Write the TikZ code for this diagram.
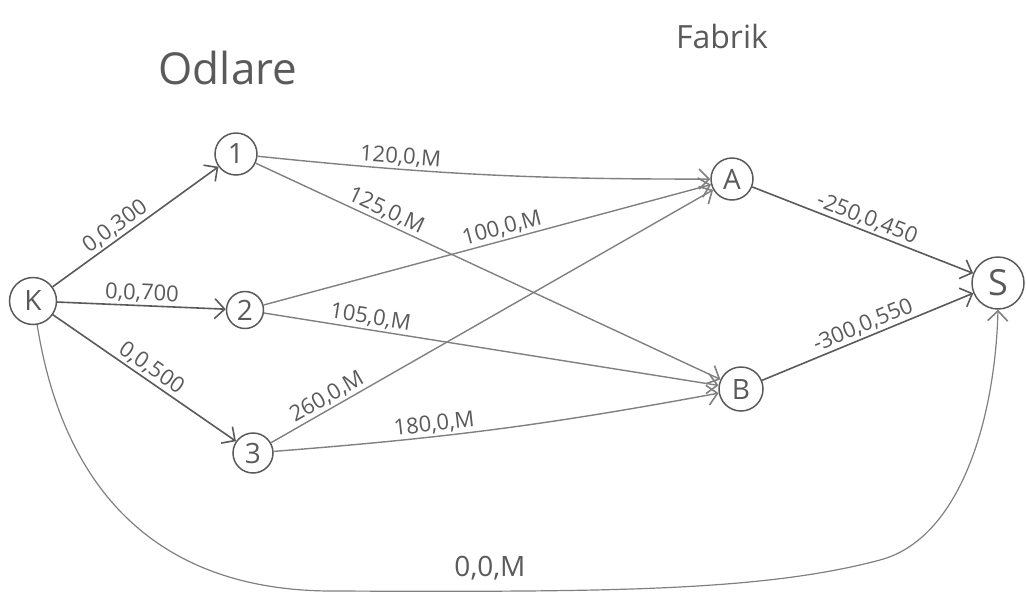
\documentclass[tikz,border=0pt]{standalone}
\usepackage{fontspec}
\setmainfont{Open Sans}
\usetikzlibrary{arrows.meta}
\definecolor{pencil}{HTML}{5A5A5A}
\definecolor{lightpencil}{HTML}{808080}
\tikzset{
  vert/.style={circle, draw=pencil, line width=1.5pt, minimum size=42pt, inner sep=0pt, font=\fontsize{28}{30}\selectfont, text=pencil},
  edge/.style={draw=pencil, line width=1.6pt, -{Straight Barb[length=10pt,width=20pt,line width=1.6pt]}},
  edgel/.style={edge, draw=lightpencil, line width=1.4pt},
  lab/.style={font=\fontsize{22}{24}\selectfont, text=pencil, inner sep=2pt, sloped, above},
  title/.style={text=pencil}
}
\begin{document}
\begin{tikzpicture}[x=1pt,y=-1pt]
\useasboundingbox (0,0) rectangle (1026,595);
\node[vert, minimum size=47pt] (K) at (33,301) {K};
\node[vert] (n1) at (236,154) {1};
\node[vert, minimum size=37pt] (n2) at (245,310) {2};
\node[vert, minimum size=40pt] (n3) at (253,453) {3};
\node[vert] (A) at (732,179) {A};
\node[vert, minimum size=44pt] (B) at (741,389) {B};
\node[vert, minimum size=52pt, font=\fontsize{36}{38}\selectfont] (S) at (998,283) {S};

\node[title, font=\fontsize{44}{48}\selectfont] (odl) at (228,68) {Odlare};
\node[title, font=\fontsize{32}{36}\selectfont] (fab) at (722,36) {Fabrik};

\draw[edge] (K) -- node[lab, pos=0.42] (l1) {0,0,300} (n1);
\draw[edge] (K) -- node[lab, pos=0.5] (l2) {0,0,700} (n2);
\draw[edge] (K) -- node[lab, pos=0.5] (l3) {0,0,500} (n3);
\draw[edgel] (n1) to[bend right=3] node[lab, pos=0.3] (l4) {120,0,M} (A);
\draw[edgel] (n1) -- node[lab, pos=0.27] (l5) {125,0,M} (B);
\draw[edgel] (n2) -- node[lab, pos=0.54] (l6) {100,0,M} (A);
\draw[edgel] (n2) -- node[lab, pos=0.23] (l7) {105,0,M} (B);
\draw[edgel] (n3) -- node[lab, pos=0.14] (l8) {260,0,M} (A);
\draw[edgel] (n3) to[bend right=3] node[lab, pos=0.35] (l9) {180,0,M} (B);
\draw[edge] (A) -- node[lab, pos=0.5] (l10) {-250,0,450} (S);
\draw[edge] (B) -- node[lab, pos=0.5] (l11) {-300,0,550} (S);
\draw[edgel, line width=1.2pt] (K.-80) .. controls (60,470) and (140,590) .. (330,591)
  .. controls (600,592) and (760,592) .. (880,560)
  .. controls (960,538.7) and (995,420) .. (S.south);
\node[text=pencil, font=\fontsize{28}{30}\selectfont] (l12) at (490,568) {0,0,M};
\end{tikzpicture}
\end{document}
